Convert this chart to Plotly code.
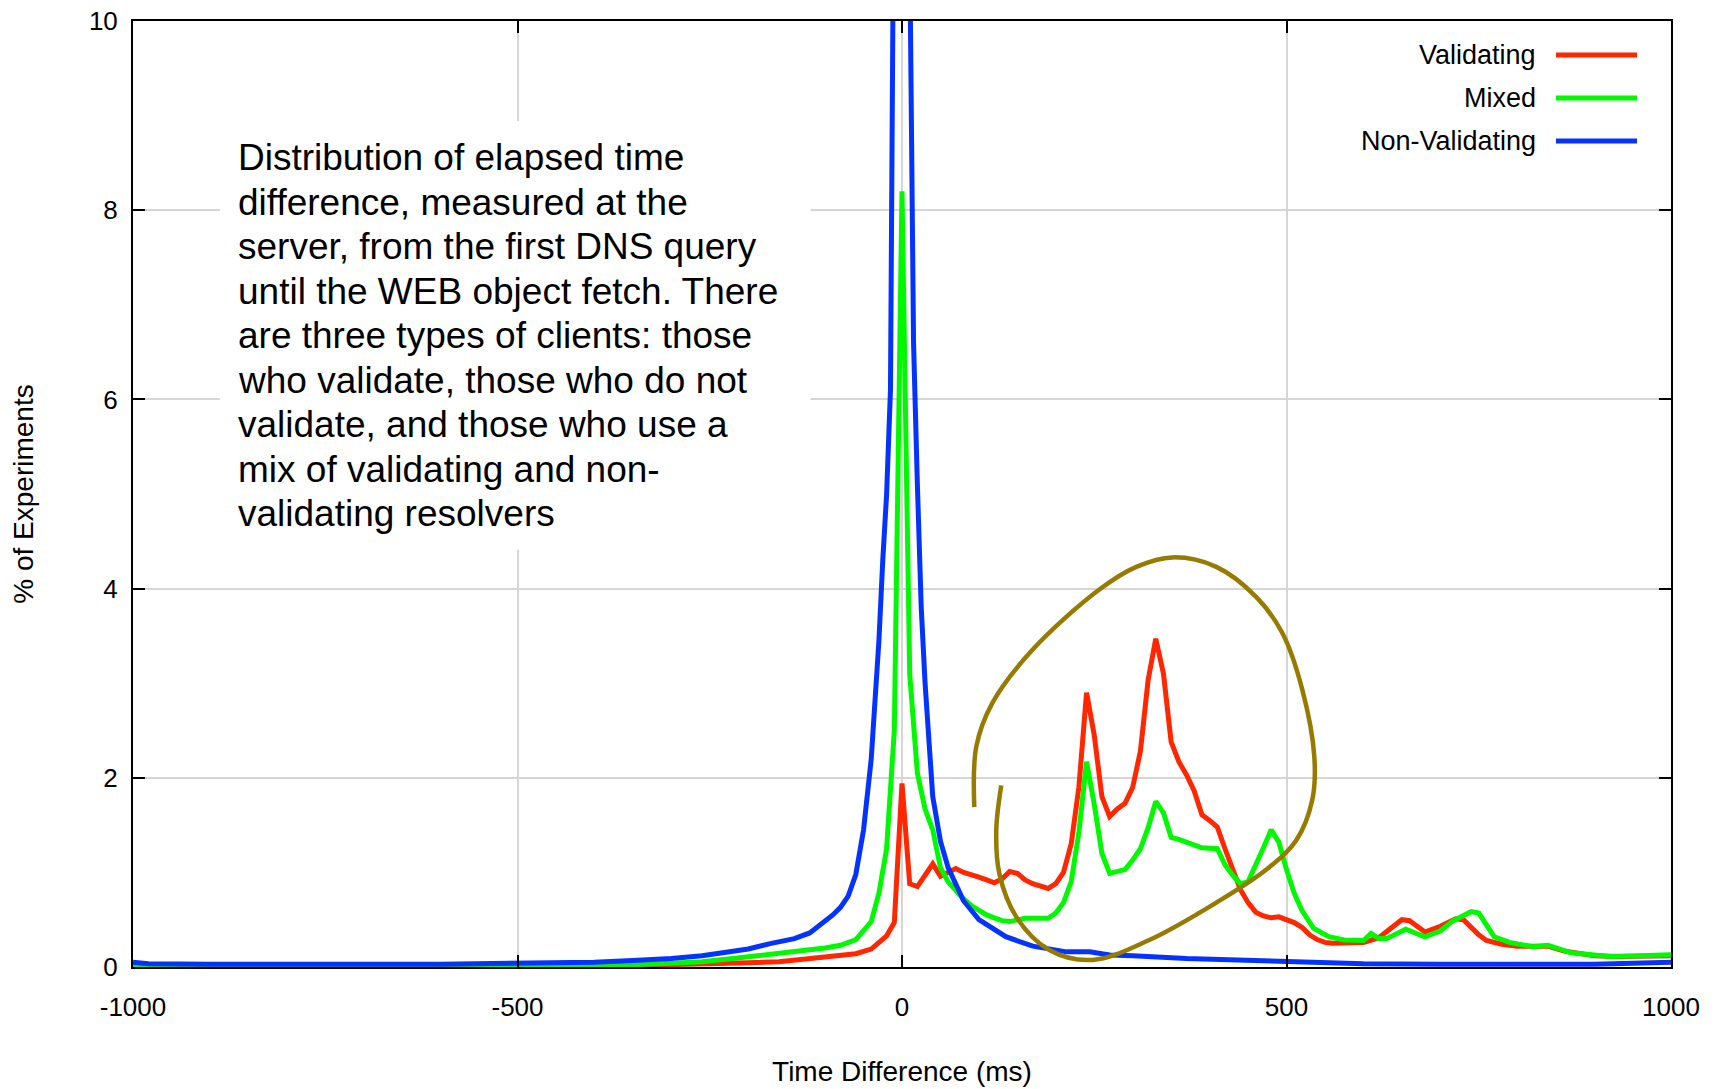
import plotly.graph_objects as go

# Validating clients
x_validating = [-1000, -900, -800, -700, -600, -500, -400, -300, -250, -200, -160, -120, -80, -60, -40, -20, -10,
                0, 10, 20, 30, 40, 50, 60, 70, 80, 90, 100, 110, 120, 130, 140, 150, 160, 170, 180, 190, 200,
                210, 220, 230, 240, 250, 260, 270, 280, 290, 300, 310, 320, 330, 340, 350, 360, 370, 380, 390,
                400, 410, 420, 430, 440, 450, 460, 470, 480, 490, 500, 510, 520, 530, 540, 550, 560, 580, 600,
                620, 640, 650, 660, 670, 680, 700, 720, 730, 740, 750, 760, 780, 800, 820, 840, 860, 880, 900,
                930, 960, 1000]
y_validating = [0.01, 0.01, 0.01, 0.01, 0.01, 0.01, 0.015, 0.025, 0.03, 0.045, 0.056, 0.085, 0.12, 0.14, 0.19, 0.33, 0.47,
                1.94, 0.88, 0.85, 0.97, 1.09, 0.96, 1.0, 1.04, 1.0, 0.98, 0.95, 0.92, 0.89, 0.93, 1.01, 0.99, 0.92,
                0.88, 0.85, 0.83, 0.88, 1.0, 1.3, 1.9, 2.9, 2.45, 1.8, 1.59, 1.67, 1.73, 1.9, 2.28, 3.03, 3.47,
                3.1, 2.38, 2.17, 2.03, 1.86, 1.61, 1.55, 1.48, 1.25, 1.02, 0.82, 0.68, 0.58, 0.54, 0.52, 0.53,
                0.5, 0.47, 0.42, 0.34, 0.29, 0.26, 0.25, 0.25, 0.26, 0.31, 0.43, 0.5, 0.49, 0.43, 0.37, 0.43,
                0.51, 0.5, 0.42, 0.34, 0.28, 0.24, 0.22, 0.22, 0.22, 0.17, 0.14, 0.12, 0.11, 0.11, 0.12]

# Mixed clients
x_mixed = [-1000, -800, -600, -500, -400, -350, -300, -260, -220, -180, -140, -100, -80, -60, -40, -30, -20, -10,
           0, 10, 20, 30, 40, 50, 60, 70, 80, 90, 100, 110, 120, 130, 140, 160, 190, 200, 210, 220, 230, 240,
           250, 260, 270, 290, 300, 310, 320, 330, 340, 350, 360, 375, 390, 410, 420, 430, 440, 450, 460, 470,
           480, 490, 500, 510, 520, 535, 555, 575, 600, 610, 620, 630, 655, 680, 700, 715, 740, 750, 770, 790,
           820, 840, 870, 900, 920, 950, 1000]
y_mixed = [0.02, 0.02, 0.02, 0.02, 0.02, 0.025, 0.04, 0.056, 0.09, 0.125, 0.155, 0.2, 0.23, 0.29, 0.48, 0.78, 1.25, 2.5,
           8.2, 3.1, 2.05, 1.67, 1.45, 1.05, 0.9, 0.8, 0.72, 0.65, 0.6, 0.55, 0.52, 0.49, 0.48, 0.515, 0.515, 0.57,
           0.68, 0.9, 1.42, 2.17, 1.72, 1.2, 0.99, 1.03, 1.13, 1.25, 1.47, 1.75, 1.63, 1.37, 1.35, 1.31, 1.26,
           1.25, 1.08, 0.97, 0.88, 0.9, 1.07, 1.26, 1.45, 1.32, 1.03, 0.78, 0.6, 0.41, 0.32, 0.285, 0.28, 0.355,
           0.3, 0.3, 0.4, 0.32, 0.38, 0.48, 0.585, 0.57, 0.32, 0.26, 0.215, 0.23, 0.15, 0.12, 0.11, 0.115, 0.13]

# Non-validating clients
x_nonvalidating = [-1000, -980, -900, -800, -700, -600, -500, -450, -400, -350, -300, -260, -230, -200, -170, -140,
                   -120, -100, -90, -80, -70, -60, -50, -40, -30, -25, -20, -15, -10, -5, 0, 5, 10, 15, 20, 25, 30,
                   35, 40, 50, 60, 80, 100, 135, 170, 214, 244, 270, 300, 370, 450, 500, 540, 600, 700, 800, 900, 1000]
y_nonvalidating = [0.05, 0.035, 0.03, 0.035, 0.03, 0.03, 0.035, 0.04, 0.05, 0.07, 0.09, 0.12, 0.15, 0.19, 0.25, 0.3,
                   0.36, 0.48, 0.55, 0.63, 0.75, 0.98, 1.45, 2.2, 3.45, 4.3, 5.0, 6.1, 8.7, 15.0, 25.0, 15.0, 10.0,
                   6.6, 5.1, 3.8, 3.0, 2.3, 1.8, 1.33, 1.05, 0.7, 0.5, 0.32, 0.22, 0.16, 0.16, 0.127, 0.12, 0.09,
                   0.07, 0.06, 0.04, 0.035, 0.03, 0.03, 0.03, 0.05]

series_names = ["Validating", "Mixed", "Non-Validating"]
series_colors = ["#FF2600", "#00F900", "#0433FF"]

x_tickvals = [-1000, -500, 0, 500, 1000]
x_ticktext = ["-1000", "-500", "0", "500", "1000"]
y_tickvals = [0, 2, 4, 6, 8, 10]

# hand-drawn loop highlighting the delayed peaks
loop_x = [94, 96.6, 117.4, 169.4, 256.6, 304.7, 351.5, 408.7, 460.8, 494.6, 520.6, 536.2, 533.6, 512.8,
          473.8, 408.7, 321.6, 247.5, 191.5, 148.6, 126.5, 122.6, 129.1]
loop_y = [1.69, 2.33, 2.79, 3.35, 3.99, 4.23, 4.33, 4.23, 3.91, 3.53, 2.93, 2.22, 1.77, 1.34,
          1.03, 0.68, 0.285, 0.074, 0.18, 0.53, 0.99, 1.45, 1.92]

note_lines = [
    "Distribution of elapsed time",
    "difference, measured at the",
    "server, from the first DNS query",
    "until the WEB object fetch. There",
    "are three types of clients: those",
    "who validate, those who do not",
    "validate, and those who use a",
    "mix of validating and non-",
    "validating resolvers",
]

FONT = "Liberation Sans, Arial, Helvetica, sans-serif"

fig = go.Figure()
for xs, ys, name, color in zip([x_validating, x_mixed, x_nonvalidating],
                               [y_validating, y_mixed, y_nonvalidating],
                               series_names, series_colors):
    fig.add_trace(go.Scatter(x=xs, y=ys, mode="lines", name=name,
                             line=dict(color=color, width=5), showlegend=False))

fig.add_trace(go.Scatter(x=loop_x, y=loop_y, mode="lines", showlegend=False,
                         line=dict(color="#977A00", width=4.5, shape="spline", smoothing=1.0)))

# white box behind the description text (hides the grid there)
fig.add_shape(type="rect", xref="x", yref="y", x0=-887, x1=-119, y0=4.41, y1=8.94,
              fillcolor="white", line=dict(width=0), layer="between")
# one annotation per line so the line spacing matches the original
for i, line in enumerate(note_lines):
    fig.add_annotation(x=-866, y=8.555 - i * 0.4705, xref="x", yref="y", text=line, showarrow=False,
                       xanchor="left", yanchor="middle", align="left",
                       font=dict(family=FONT, size=37, color="black"))

# legend drawn by hand: label on the left, line sample on the right
legend_y = [0.964, 0.9186, 0.8732]
for name, color, ly in zip(series_names, series_colors, legend_y):
    fig.add_annotation(x=0.9135, y=ly, xref="paper", yref="paper", text=name, showarrow=False,
                       xanchor="right", yanchor="middle", font=dict(family=FONT, size=27, color="black"))
    fig.add_shape(type="line", xref="paper", yref="paper", x0=0.9252, x1=0.9779, y0=ly, y1=ly,
                  line=dict(color=color, width=5))

axis_common = dict(showline=True, linecolor="black", linewidth=2, mirror="ticks",
                   ticks="inside", ticklen=12, tickwidth=2, tickcolor="black",
                   showgrid=True, gridcolor="#d6d6d6", gridwidth=1.5, zeroline=False,
                   automargin=False, ticklabeloverflow="allow",
                   tickfont=dict(family=FONT, size=26, color="black"))

fig.update_xaxes(range=[-1000, 1000], tickvals=x_tickvals, ticktext=x_ticktext,
                 ticklabelstandoff=16,
                 title=dict(text="Time Difference (ms)", font=dict(family=FONT, size=28, color="black"),
                            standoff=40),
                 **axis_common)
fig.update_yaxes(range=[0, 10], tickvals=y_tickvals,
                 ticklabelstandoff=8,
                 title=dict(text="% of Experiments", font=dict(family=FONT, size=28, color="black"),
                            standoff=61),
                 **axis_common)

# page body adds an 8px offset, so margins are trimmed to keep the plot area in place
fig.update_layout(
    width=1723, height=1089,
    margin=dict(l=125, r=60, t=13, b=130),
    plot_bgcolor="white", paper_bgcolor="white",
    showlegend=False,
)

fig.write_html("out.html")
